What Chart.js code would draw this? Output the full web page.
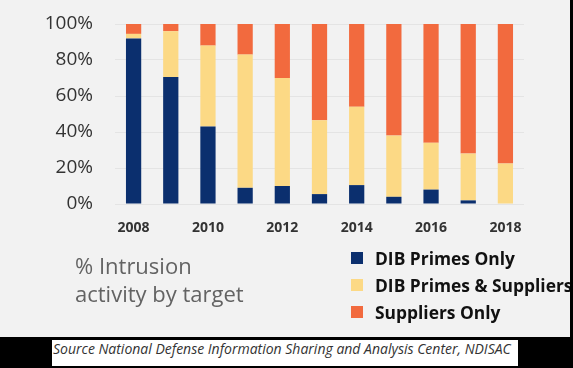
<!DOCTYPE html>
<html>
<head>
<meta charset="utf-8">
<script src="https://cdn.jsdelivr.net/npm/chart.js@4"></script>
<style>
    body { margin: 0; background: #000; width: 573px; height: 368px; overflow: hidden; position: relative; }
    #painel { position: absolute; left: 0; top: 0; width: 570px; height: 337px; background: #f2f2f2; overflow: hidden; }
    #titulo { position: absolute; left: 75px; top: 251px; font-family: "Open Sans", sans-serif; font-size: 22px; line-height: 28px; color: #636363; }
    #legenda { position: absolute; left: 351px; top: 244px; font-family: "Open Sans", sans-serif; font-weight: bold; font-size: 17.4px; color: #111; white-space: nowrap; }
    .item { height: 27px; display: flex; align-items: center; }
    .quadrado { width: 12px; height: 12px; margin-right: 12px; flex: none; }
    #fonte { position: absolute; left: 52px; top: 340px; width: 465px; height: 26px; padding-left: 1px; background: #fff; font-family: "Open Sans", sans-serif; font-style: italic; font-size: 14px; line-height: 18px; color: #333; white-space: nowrap; overflow: hidden; }
</style>
</head>
<body>
<div id="painel">
    <canvas id="meuGrafico"></canvas>
    <div id="titulo">% Intrusion<br>activity by target</div>
    <div id="legenda"></div>
</div>
<div id="fonte">Source National Defense Information Sharing and Analysis Center, NDISAC</div>
<script>
const anos = ['2008', '2009', '2010', '2011', '2012', '2013', '2014', '2015', '2016', '2017', '2018'];
const primesOnly = [92, 70.5, 43, 9, 10, 5.5, 10.5, 4, 8, 2, 0];
const primesSuppliers = [2.5, 25.5, 45, 74, 60, 41, 43.5, 34, 26, 26, 22.5];
const suppliersOnly = [5.5, 4, 12, 17, 30, 53.5, 46, 62, 66, 72, 77.5];
const ticksY = [0, 20, 40, 60, 80, 100];

const series = [
    { label: 'DIB Primes Only', data: primesOnly, cor: '#0b2f6e' },
    { label: 'DIB Primes & Suppliers', data: primesSuppliers, cor: '#fcd985' },
    { label: 'Suppliers Only', data: suppliersOnly, cor: '#f26a3e' }
];

const ctx = document.getElementById('meuGrafico').getContext('2d');
const grafico = new Chart(ctx, {
    type: 'bar',
    data: {
        labels: anos,
        datasets: series.map(s => ({
            label: s.label,
            data: s.data,
            backgroundColor: s.cor,
            borderWidth: 0,
            categoryPercentage: 1,
            barPercentage: 0.41
        }))
    },
    options: {
        responsive: true,
        maintainAspectRatio: false,
        animation: false,
        layout: { padding: { top: 24, right: 46, bottom: 103, left: 0 } },
        plugins: { legend: { display: false }, tooltip: { enabled: false } },
        scales: {
            x: {
                stacked: true,
                grid: { display: false },
                border: { display: false },
                afterFit: (escala) => { escala.height = 30; },
                ticks: {
                    autoSkip: false,
                    maxRotation: 0,
                    padding: 8,
                    color: '#333',
                    font: { family: 'Open Sans', size: 14, weight: 'bold' },
                    callback: (valor, i) => (i % 2 === 0 ? anos[i] : '')
                }
            },
            y: {
                stacked: true,
                min: 0,
                max: 100,
                afterFit: (escala) => {
                    escala.width = 115;
                    //o padding dos ticks empurrava a area do grafico para baixo
                    escala.paddingTop = 0;
                    escala.paddingBottom = 0;
                },
                afterBuildTicks: (escala) => { escala.ticks = ticksY.map(v => ({ value: v })); },
                grid: { color: '#e4e4e4', drawTicks: false },
                border: { display: false },
                ticks: {
                    padding: 22,
                    color: '#333',
                    font: { family: 'Open Sans', size: 19 },
                    callback: (valor) => valor + '%'
                }
            }
        }
    }
});

//legenda montada a partir das series
const legenda = document.getElementById('legenda');
series.forEach(s => {
    const item = document.createElement('div');
    item.className = 'item';
    const quadrado = document.createElement('span');
    quadrado.className = 'quadrado';
    quadrado.style.background = s.cor;
    const texto = document.createElement('span');
    texto.innerText = s.label;
    item.appendChild(quadrado);
    item.appendChild(texto);
    legenda.appendChild(item);
});
</script>
</body>
</html>
